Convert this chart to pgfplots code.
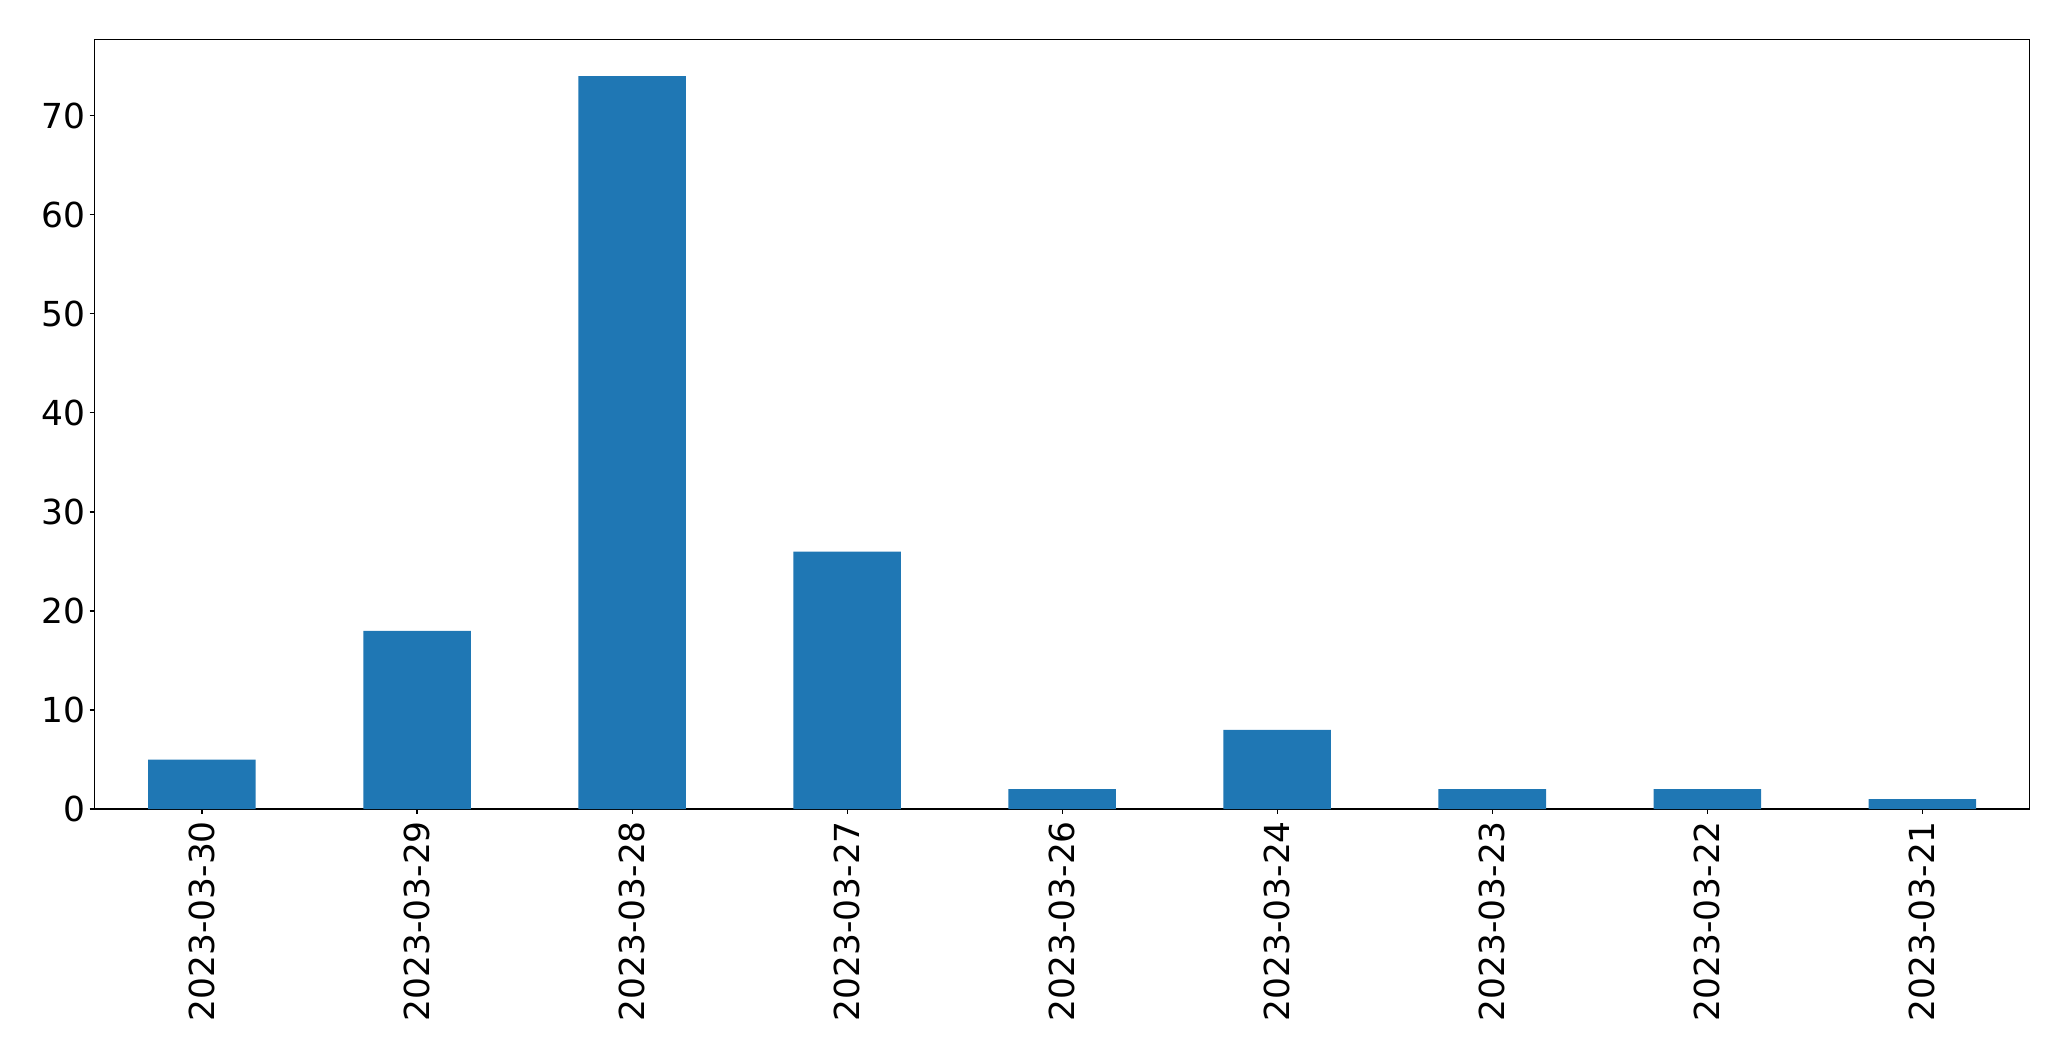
\documentclass[border=0pt]{standalone}
\usepackage{fontspec}
\setmainfont{DejaVu Sans}
\usepackage{pgfplots}
\pgfplotsset{compat=1.18}
\definecolor{mplblue}{HTML}{1F77B4}
\begin{document}
\fontsize{24.8bp}{29.8bp}\selectfont
\begin{tikzpicture}
\path[use as bounding box] (-68.0bp,-181.4bp) rectangle (1423.1bp,582.5bp);
\begin{axis}[
  at={(0,0)}, anchor=south west,
  scale only axis,
  width=1393.6bp, height=554.0bp,
  xmin=-0.5, xmax=8.5,
  ymin=0, ymax=77.7,
  xtick={0,1,2,3,4,5,6,7,8},
  xticklabels={2023-03-30,2023-03-29,2023-03-28,2023-03-27,2023-03-26,2023-03-24,2023-03-23,2023-03-22,2023-03-21},
  ytick={0,10,20,30,40,50,60,70},
  xtick pos=bottom, ytick pos=left,
  tick align=outside,
  major tick length=3.5bp,
  every tick/.style={black, line width=0.8bp},
  axis line style={black, line width=0.8bp},
  /pgf/number format/assume math mode=true,
  ticklabel style={font=\fontsize{24.8bp}{29.8bp}\selectfont},
  xticklabel style={rotate=90, anchor=east, inner sep=5bp},
  yticklabel style={inner sep=3bp},
]
\addplot[ybar, bar width=0.5, fill=mplblue, draw=none] coordinates {
  (0,5) (1,18) (2,74) (3,26) (4,2) (5,8) (6,2) (7,2) (8,1)
};
\end{axis}
\end{tikzpicture}
\end{document}
